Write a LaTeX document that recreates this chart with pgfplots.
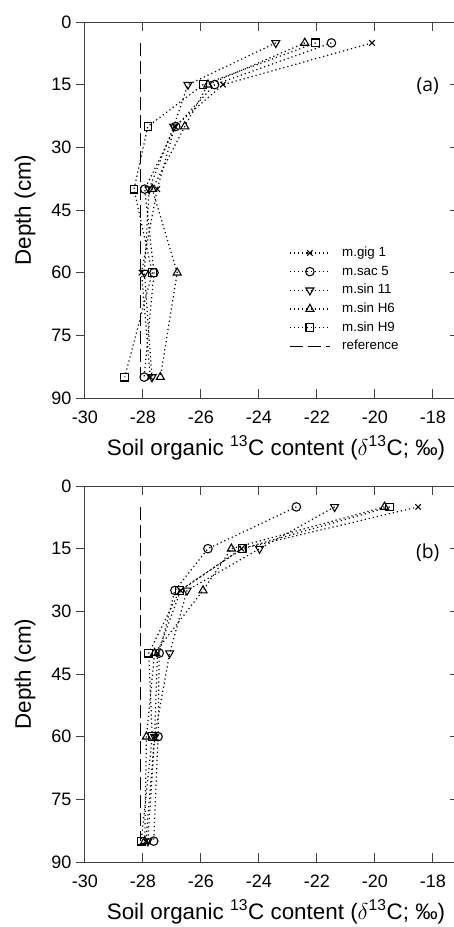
\documentclass[border=0pt]{standalone}
\usepackage{fontspec}
\setmainfont{Liberation Sans}
\newfontfamily\panelfont{Open Sans}
\usepackage{pgfplots}
\pgfplotsset{compat=1.18}

% one pixel of the reference = 0.75pt
\pgfplotsset{
  box/.style={scale only axis, width=280.5pt, height=282pt,
    xmin=-30, xmax=-17.1, ymin=0, ymax=90, y dir=reverse,
    major tick length=6.75pt,
    axis line style={black!75, line width=0.75pt},
    tick style={black!75, line width=0.75pt}},
  soil/.style={box,
    xtick={-30,-28,...,-18}, ytick={0,15,...,90},
    xtick pos=both, xtick align=inside, ytick pos=left, ytick align=outside,
    tick label style={font=\fontsize{13.5}{15}\selectfont},
    xticklabel style={yshift=-6pt},
    label style={font=\fontsize{16.8}{18}\selectfont},
    xlabel style={at={(axis description cs:0.5,0)}, anchor=base, yshift=-43pt, xshift=3pt},
    ylabel style={at={(axis description cs:0,0.5)}, anchor=center, yshift=45pt},
    /pgf/number format/assume math mode=true,
    xlabel={Soil organic \textsuperscript{13}C content ($\delta$\textsuperscript{13}C; ‰)},
    ylabel={Depth (cm)},
    clip=false},
  rightticks/.style={box, axis x line=none, axis y line*=right,
    ytick={0,15,...,90}, yticklabels={}, ytick align=inside},
  ser/.style={black, line width=0.9pt, dash pattern=on 0.9pt off 2.2pt,
    mark options={solid, line width=0.8pt}},
  dn/.style={ser, mark=triangle, mark size=3.5pt, mark options={solid, line width=0.8pt, rotate=180}},
  up/.style={ser, mark=triangle, mark size=3.5pt},
  cr/.style={ser, mark=x, mark size=2.9pt},
  ci/.style={ser, mark=o, mark size=3.2pt},
  sq/.style={ser, mark=square, mark size=2.9pt},
  refline/.style={black, line width=0.8pt, dash pattern=on 9.75pt off 3.75pt},
}

\begin{document}
\begin{tikzpicture}
% ---------------- panel (a)
\begin{axis}[soil,
  legend image code/.code={\draw[mark repeat=2, mark phase=2, #1] plot coordinates {(0pt,0pt) (15pt,0pt) (30pt,0pt)};},
  legend cell align=left,
  legend style={draw=none, fill=none, inner sep=0pt, at={(0.5455,0.404)}, anchor=north west,
    font=\fontsize{10}{11}\selectfont, column sep=8.8pt, row sep=4.1pt,
    nodes={inner sep=0pt, text height=7.7pt, text depth=2.2pt}}]
\addplot[cr] coordinates {(-20.10,5) (-25.24,15) (-26.90,25) (-27.51,40) (-28.05,60) (-27.75,85)};
\addplot[ci] coordinates {(-21.50,5) (-25.53,15) (-26.87,25) (-27.94,40) (-27.62,60) (-27.96,85)};
\addplot[dn] coordinates {(-23.42,5) (-26.45,15) (-26.94,25) (-27.79,40) (-27.95,60) (-27.69,85)};
\addplot[up] coordinates {(-22.42,5) (-25.76,15) (-26.56,25) (-27.68,40) (-26.82,60) (-27.40,85)};
\addplot[sq] coordinates {(-22.04,5) (-25.93,15) (-27.83,25) (-28.31,40) (-27.68,60) (-28.63,85)};
\addplot[refline, mark=none] coordinates {(-28.1,5) (-28.1,85)};
\legend{m.gig 1, m.sac 5, m.sin 11, m.sin H6, m.sin H9, reference}
\node[font=\panelfont\fontsize{14.5}{16}\selectfont] at (axis cs:-18.18,15.3) {(a)};
\end{axis}
\begin{axis}[rightticks]
\end{axis}
% ---------------- panel (b)
\begin{axis}[soil, at={(0pt,-348pt)}]
\addplot[cr] coordinates {(-18.51,5) (-24.60,15) (-26.70,25) (-27.50,40) (-27.60,60) (-27.90,85)};
\addplot[ci] coordinates {(-22.71,5) (-25.76,15) (-26.90,25) (-27.44,40) (-27.48,60) (-27.63,85)};
\addplot[dn] coordinates {(-21.39,5) (-23.98,15) (-26.48,25) (-27.08,40) (-27.60,60) (-27.83,85)};
\addplot[up] coordinates {(-19.67,5) (-24.95,15) (-25.93,25) (-27.60,40) (-27.88,60) (-27.94,85)};
\addplot[sq] coordinates {(-19.49,5) (-24.58,15) (-26.73,25) (-27.80,40) (-27.68,60) (-28.06,85)};
\addplot[refline, mark=none] coordinates {(-28.1,5) (-28.1,85)};
\node[font=\panelfont\fontsize{14.5}{16}\selectfont] at (axis cs:-18.18,16) {(b)};
\end{axis}
\begin{axis}[rightticks, at={(0pt,-348pt)}]
\end{axis}
\pgfresetboundingbox
\useasboundingbox (-63.75pt,-396.75pt) rectangle (276pt,298.5pt);
\end{tikzpicture}
\end{document}
